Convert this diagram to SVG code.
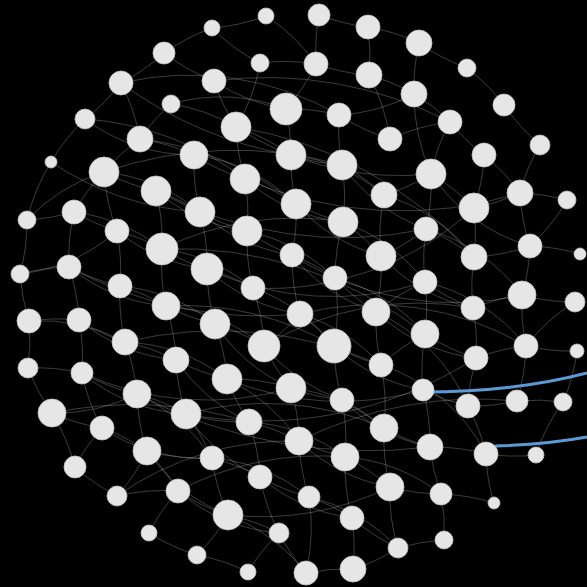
<svg xmlns="http://www.w3.org/2000/svg" width="587" height="587" viewBox="0 0 587 587">
<style>
.e{fill:none;stroke:#c8c8c8;stroke-width:0.55;opacity:0.55}
.b{fill:none;stroke:#5b9bd5;stroke-width:3}
circle{fill:#e6e6e6;stroke:#c4c4c4;stroke-width:0.8}
</style>
<rect width="587" height="587" fill="#000"/>
<g id="connectors">
<path class="e" d="M266 16A200 200 0 0 1 212 28"/>
<path class="e" d="M319 15A200 200 0 0 0 368 27"/>
<path class="e" d="M368 27A200 200 0 0 1 419 43"/>
<path class="e" d="M212 28A200 200 0 0 0 164 53"/>
<path class="e" d="M164 53A200 200 0 0 1 121 83"/>
<path class="e" d="M164 53A200 200 0 0 0 214 81"/>
<path class="e" d="M260 63A200 200 0 0 1 316 64"/>
<path class="e" d="M316 64A200 200 0 0 0 369 75"/>
<path class="e" d="M369 75A200 200 0 0 1 414 94"/>
<path class="e" d="M419 43A200 200 0 0 0 467 68"/>
<path class="e" d="M467 68A200 200 0 0 1 504 105"/>
<path class="e" d="M504 105A200 200 0 0 0 540 145"/>
<path class="e" d="M121 83A200 200 0 0 1 85 119"/>
<path class="e" d="M85 119A200 200 0 0 0 51 162"/>
<path class="e" d="M121 83A200 200 0 0 1 140 139"/>
<path class="e" d="M214 81A200 200 0 0 0 236 127"/>
<path class="e" d="M286 109A200 200 0 0 1 339 115"/>
<path class="e" d="M339 115A200 200 0 0 0 390 139"/>
<path class="e" d="M390 139A200 200 0 0 1 450 122"/>
<path class="e" d="M450 122A200 200 0 0 0 484 155"/>
<path class="e" d="M484 155A200 200 0 0 1 520 193"/>
<path class="e" d="M140 139A200 200 0 0 0 104 172"/>
<path class="e" d="M140 139A200 200 0 0 1 194 155"/>
<path class="e" d="M194 155A200 200 0 0 0 245 179"/>
<path class="e" d="M236 127A200 200 0 0 1 291 155"/>
<path class="e" d="M291 155A200 200 0 0 0 342 165"/>
<path class="e" d="M342 165A200 200 0 0 1 384 195"/>
<path class="e" d="M384 195A200 200 0 0 0 431 174"/>
<path class="e" d="M431 174A200 200 0 0 1 474 208"/>
<path class="e" d="M474 208A200 200 0 0 0 520 193"/>
<path class="e" d="M520 193A200 200 0 0 1 567 200"/>
<path class="e" d="M104 172A200 200 0 0 0 74 212"/>
<path class="e" d="M74 212A200 200 0 0 1 27 220"/>
<path class="e" d="M104 172A200 200 0 0 0 156 191"/>
<path class="e" d="M156 191A200 200 0 0 1 200 212"/>
<path class="e" d="M200 212A200 200 0 0 0 247 231"/>
<path class="e" d="M245 179A200 200 0 0 1 296 204"/>
<path class="e" d="M296 204A200 200 0 0 0 343 222"/>
<path class="e" d="M343 222A200 200 0 0 1 381 256"/>
<path class="e" d="M381 256A200 200 0 0 0 426 229"/>
<path class="e" d="M426 229A200 200 0 0 1 474 257"/>
<path class="e" d="M474 257A200 200 0 0 0 530 246"/>
<path class="e" d="M530 246A200 200 0 0 1 580 254"/>
<path class="e" d="M74 212A200 200 0 0 0 117 231"/>
<path class="e" d="M117 231A200 200 0 0 1 162 249"/>
<path class="e" d="M162 249A200 200 0 0 0 207 269"/>
<path class="e" d="M207 269A200 200 0 0 1 253 288"/>
<path class="e" d="M247 231A200 200 0 0 0 292 255"/>
<path class="e" d="M292 255A200 200 0 0 1 335 278"/>
<path class="e" d="M335 278A200 200 0 0 0 376 312"/>
<path class="e" d="M376 312A200 200 0 0 1 425 282"/>
<path class="e" d="M425 282A200 200 0 0 0 473 308"/>
<path class="e" d="M473 308A200 200 0 0 1 522 295"/>
<path class="e" d="M522 295A200 200 0 0 0 575 302"/>
<path class="e" d="M20 274A200 200 0 0 1 69 267"/>
<path class="e" d="M69 267A200 200 0 0 0 120 286"/>
<path class="e" d="M120 286A200 200 0 0 1 166 306"/>
<path class="e" d="M166 306A200 200 0 0 0 215 324"/>
<path class="e" d="M215 324A200 200 0 0 1 264 346"/>
<path class="e" d="M264 346A200 200 0 0 0 300 314"/>
<path class="e" d="M300 314A200 200 0 0 1 334 346"/>
<path class="e" d="M334 346A200 200 0 0 0 381 365"/>
<path class="e" d="M381 365A200 200 0 0 1 425 334"/>
<path class="e" d="M425 334A200 200 0 0 0 476 358"/>
<path class="e" d="M476 358A200 200 0 0 1 526 346"/>
<path class="e" d="M526 346A200 200 0 0 0 577 351"/>
<path class="e" d="M29 321A200 200 0 0 1 79 320"/>
<path class="e" d="M79 320A200 200 0 0 0 125 342"/>
<path class="e" d="M125 342A200 200 0 0 1 176 360"/>
<path class="e" d="M176 360A200 200 0 0 0 227 379"/>
<path class="e" d="M227 379A200 200 0 0 1 291 388"/>
<path class="e" d="M291 388A200 200 0 0 0 342 400"/>
<path class="e" d="M342 400A200 200 0 0 1 384 428"/>
<path class="e" d="M384 428A200 200 0 0 0 430 447"/>
<path class="e" d="M430 447A200 200 0 0 1 486 454"/>
<path class="e" d="M486 454A200 200 0 0 0 536 455"/>
<path class="e" d="M28 368A200 200 0 0 1 82 373"/>
<path class="e" d="M82 373A200 200 0 0 0 137 394"/>
<path class="e" d="M137 394A200 200 0 0 1 186 414"/>
<path class="e" d="M186 414A200 200 0 0 0 249 422"/>
<path class="e" d="M249 422A200 200 0 0 1 299 441"/>
<path class="e" d="M299 441A200 200 0 0 0 345 457"/>
<path class="e" d="M345 457A200 200 0 0 1 390 487"/>
<path class="e" d="M390 487A200 200 0 0 0 441 494"/>
<path class="e" d="M441 494A200 200 0 0 1 494 503"/>
<path class="e" d="M52 413A200 200 0 0 0 102 428"/>
<path class="e" d="M102 428A200 200 0 0 1 147 451"/>
<path class="e" d="M147 451A200 200 0 0 0 212 458"/>
<path class="e" d="M212 458A200 200 0 0 1 260 477"/>
<path class="e" d="M260 477A200 200 0 0 0 309 497"/>
<path class="e" d="M309 497A200 200 0 0 1 352 518"/>
<path class="e" d="M352 518A200 200 0 0 0 398 548"/>
<path class="e" d="M398 548A200 200 0 0 1 444 540"/>
<path class="e" d="M75 467A200 200 0 0 0 117 496"/>
<path class="e" d="M117 496A200 200 0 0 1 178 491"/>
<path class="e" d="M178 491A200 200 0 0 0 228 515"/>
<path class="e" d="M228 515A200 200 0 0 1 279 533"/>
<path class="e" d="M279 533A200 200 0 0 0 306 573"/>
<path class="e" d="M306 573A200 200 0 0 1 353 569"/>
<path class="e" d="M149 533A200 200 0 0 0 197 555"/>
<path class="e" d="M197 555A200 200 0 0 1 248 572"/>
<path class="e" d="M468 406A200 200 0 0 0 517 401"/>
<path class="e" d="M517 401A200 200 0 0 1 563 402"/>
<path class="e" d="M423 390A200 200 0 0 0 468 406"/>
<path class="e" d="M52 413A200 200 0 0 1 75 467"/>
<path class="e" d="M28 368A200 200 0 0 0 52 413"/>
<path class="e" d="M29 321A200 200 0 0 1 28 368"/>
<path class="e" d="M20 274A200 200 0 0 0 29 321"/>
<path class="e" d="M27 220A200 200 0 0 1 20 274"/>
<path class="e" d="M51 162A200 200 0 0 0 27 220"/>
<path class="e" d="M286 109A200 200 0 0 1 291 155"/>
<path class="e" d="M291 155A200 200 0 0 0 296 204"/>
<path class="e" d="M296 204A200 200 0 0 1 292 255"/>
<path class="e" d="M292 255A200 200 0 0 0 300 314"/>
<path class="e" d="M316 64A200 200 0 0 1 286 109"/>
<path class="e" d="M339 115A200 200 0 0 0 342 165"/>
<path class="e" d="M342 165A200 200 0 0 1 343 222"/>
<path class="e" d="M343 222A200 200 0 0 0 335 278"/>
<path class="e" d="M335 278A200 200 0 0 1 334 346"/>
<path class="e" d="M334 346A200 200 0 0 0 342 400"/>
<path class="e" d="M342 400A200 200 0 0 1 345 457"/>
<path class="e" d="M345 457A200 200 0 0 0 352 518"/>
<path class="e" d="M352 518A200 200 0 0 1 353 569"/>
<path class="e" d="M236 127A200 200 0 0 0 245 179"/>
<path class="e" d="M245 179A200 200 0 0 1 247 231"/>
<path class="e" d="M247 231A200 200 0 0 0 253 288"/>
<path class="e" d="M253 288A200 200 0 0 1 264 346"/>
<path class="e" d="M264 346A200 200 0 0 0 291 388"/>
<path class="e" d="M291 388A200 200 0 0 1 299 441"/>
<path class="e" d="M299 441A200 200 0 0 0 309 497"/>
<path class="e" d="M309 497A200 200 0 0 1 306 573"/>
<path class="e" d="M194 155A200 200 0 0 0 200 212"/>
<path class="e" d="M200 212A200 200 0 0 1 207 269"/>
<path class="e" d="M207 269A200 200 0 0 0 215 324"/>
<path class="e" d="M215 324A200 200 0 0 1 227 379"/>
<path class="e" d="M227 379A200 200 0 0 0 249 422"/>
<path class="e" d="M249 422A200 200 0 0 1 260 477"/>
<path class="e" d="M260 477A200 200 0 0 0 279 533"/>
<path class="e" d="M156 191A200 200 0 0 1 162 249"/>
<path class="e" d="M162 249A200 200 0 0 0 166 306"/>
<path class="e" d="M166 306A200 200 0 0 1 176 360"/>
<path class="e" d="M176 360A200 200 0 0 0 186 414"/>
<path class="e" d="M186 414A200 200 0 0 1 212 458"/>
<path class="e" d="M212 458A200 200 0 0 0 228 515"/>
<path class="e" d="M117 231A200 200 0 0 1 120 286"/>
<path class="e" d="M120 286A200 200 0 0 0 125 342"/>
<path class="e" d="M125 342A200 200 0 0 1 137 394"/>
<path class="e" d="M137 394A200 200 0 0 0 147 451"/>
<path class="e" d="M147 451A200 200 0 0 1 178 491"/>
<path class="e" d="M384 195A200 200 0 0 0 381 256"/>
<path class="e" d="M381 256A200 200 0 0 1 376 312"/>
<path class="e" d="M376 312A200 200 0 0 0 381 365"/>
<path class="e" d="M381 365A200 200 0 0 1 384 428"/>
<path class="e" d="M384 428A200 200 0 0 0 390 487"/>
<path class="e" d="M431 174A200 200 0 0 1 426 229"/>
<path class="e" d="M426 229A200 200 0 0 0 425 282"/>
<path class="e" d="M425 282A200 200 0 0 1 425 334"/>
<path class="e" d="M425 334A200 200 0 0 0 423 390"/>
<path class="e" d="M423 390A200 200 0 0 1 430 447"/>
<path class="e" d="M430 447A200 200 0 0 0 441 494"/>
<path class="e" d="M474 208A200 200 0 0 1 474 257"/>
<path class="e" d="M474 257A200 200 0 0 0 473 308"/>
<path class="e" d="M473 308A200 200 0 0 1 476 358"/>
<path class="e" d="M476 358A200 200 0 0 0 468 406"/>
<path class="e" d="M468 406A200 200 0 0 1 486 454"/>
<path class="e" d="M520 193A200 200 0 0 0 530 246"/>
<path class="e" d="M530 246A200 200 0 0 1 522 295"/>
<path class="e" d="M522 295A200 200 0 0 0 526 346"/>
<path class="e" d="M526 346A200 200 0 0 1 517 401"/>
<path class="e" d="M414 94A200 200 0 0 0 431 174"/>
<path class="e" d="M369 75A200 200 0 0 1 390 139"/>
<path class="e" d="M419 43A200 200 0 0 0 414 94"/>
<path class="e" d="M368 27A200 200 0 0 1 369 75"/>
<path class="e" d="M319 15A200 200 0 0 0 316 64"/>
<path class="e" d="M69 267A200 200 0 0 1 79 320"/>
<path class="e" d="M74 212A200 200 0 0 0 69 267"/>
<path class="e" d="M79 320A200 200 0 0 1 82 373"/>
<path class="e" d="M104 172A200 200 0 0 0 117 231"/>
<path class="e" d="M140 139A300 300 0 0 1 296 204"/>
<path class="e" d="M85 119A300 300 0 0 1 245 179"/>
<path class="e" d="M236 127A300 300 0 0 0 431 174"/>
<path class="e" d="M162 249A300 300 0 0 1 343 222"/>
<path class="e" d="M207 269A300 300 0 0 0 425 282"/>
<path class="e" d="M264 346A300 300 0 0 1 473 308"/>
<path class="e" d="M82 373A300 300 0 0 0 291 388"/>
<path class="e" d="M186 414A300 300 0 0 1 384 428"/>
<path class="e" d="M121 83A300 300 0 0 1 339 115"/>
<path class="e" d="M51 162A300 300 0 0 0 200 212"/>
<path class="e" d="M300 314A300 300 0 0 1 526 346"/>
<path class="e" d="M227 379A300 300 0 0 0 423 390"/>
<path class="e" d="M178 491A300 300 0 0 1 345 457"/>
<path class="e" d="M253 288A300 300 0 0 0 474 208"/>
<path class="e" d="M166 306A300 300 0 0 1 334 346"/>
<path class="e" d="M292 255A300 300 0 0 0 522 295"/>
<path class="e" d="M117 496A300 300 0 0 1 299 441"/>
<path class="e" d="M228 515A300 300 0 0 0 390 487"/>
<path class="e" d="M104 172A180 180 0 0 1 200 212"/>
<path class="e" d="M156 191A180 180 0 0 0 247 231"/>
<path class="e" d="M194 155A180 180 0 0 1 296 204"/>
<path class="e" d="M245 179A180 180 0 0 0 343 222"/>
<path class="e" d="M291 155A180 180 0 0 1 384 195"/>
<path class="e" d="M342 165A180 180 0 0 0 426 229"/>
<path class="e" d="M384 195A180 180 0 0 1 474 257"/>
<path class="e" d="M431 174A180 180 0 0 0 530 246"/>
<path class="e" d="M74 212A180 180 0 0 1 162 249"/>
<path class="e" d="M117 231A180 180 0 0 0 207 269"/>
<path class="e" d="M162 249A180 180 0 0 1 253 288"/>
<path class="e" d="M200 212A180 180 0 0 0 292 255"/>
<path class="e" d="M247 231A180 180 0 0 1 335 278"/>
<path class="e" d="M296 204A180 180 0 0 0 381 256"/>
<path class="e" d="M343 222A180 180 0 0 1 425 282"/>
<path class="e" d="M381 256A180 180 0 0 0 473 308"/>
<path class="e" d="M426 229A180 180 0 0 1 522 295"/>
<path class="e" d="M69 267A180 180 0 0 0 166 306"/>
<path class="e" d="M120 286A180 180 0 0 1 215 324"/>
<path class="e" d="M207 269A180 180 0 0 0 300 314"/>
<path class="e" d="M253 288A180 180 0 0 1 334 346"/>
<path class="e" d="M292 255A180 180 0 0 0 376 312"/>
<path class="e" d="M335 278A180 180 0 0 1 425 334"/>
<path class="e" d="M376 312A180 180 0 0 0 476 358"/>
<path class="e" d="M425 282A180 180 0 0 1 526 346"/>
<path class="e" d="M79 320A180 180 0 0 0 176 360"/>
<path class="e" d="M166 306A180 180 0 0 1 264 346"/>
<path class="e" d="M215 324A180 180 0 0 0 291 388"/>
<path class="e" d="M300 314A180 180 0 0 1 381 365"/>
<path class="e" d="M334 346A180 180 0 0 0 423 390"/>
<path class="e" d="M376 312A180 180 0 0 1 468 406"/>
<path class="e" d="M82 373A180 180 0 0 0 186 414"/>
<path class="e" d="M125 342A180 180 0 0 1 227 379"/>
<path class="e" d="M176 360A180 180 0 0 0 249 422"/>
<path class="e" d="M227 379A180 180 0 0 1 299 441"/>
<path class="e" d="M264 346A180 180 0 0 0 342 400"/>
<path class="e" d="M291 388A180 180 0 0 1 384 428"/>
<path class="e" d="M342 400A180 180 0 0 0 430 447"/>
<path class="e" d="M381 365A180 180 0 0 1 486 454"/>
<path class="e" d="M102 428A180 180 0 0 0 212 458"/>
<path class="e" d="M137 394A180 180 0 0 1 212 458"/>
<path class="e" d="M186 414A180 180 0 0 0 260 477"/>
<path class="e" d="M249 422A180 180 0 0 1 345 457"/>
<path class="e" d="M299 441A180 180 0 0 0 390 487"/>
<path class="e" d="M345 457A180 180 0 0 1 441 494"/>
<path class="e" d="M147 451A180 180 0 0 0 228 515"/>
<path class="e" d="M212 458A180 180 0 0 1 309 497"/>
<path class="e" d="M260 477A180 180 0 0 0 352 518"/>
<path class="e" d="M309 497A180 180 0 0 1 398 548"/>
<path class="e" d="M178 491A180 180 0 0 0 279 533"/>
<path class="e" d="M228 515A180 180 0 0 1 306 573"/>
<path class="e" d="M52 413A180 180 0 0 0 137 394"/>
<path class="e" d="M29 321A180 180 0 0 1 125 342"/>
<path class="e" d="M20 274A180 180 0 0 0 117 231"/>
<path class="e" d="M27 220A180 180 0 0 1 104 172"/>
<path class="e" d="M85 119A180 180 0 0 0 194 155"/>
<path class="e" d="M171 104A180 180 0 0 1 236 127"/>
<path class="e" d="M171 104A180 180 0 0 0 140 139"/>
<path class="e" d="M171 104A180 180 0 0 1 286 109"/>
<path class="e" d="M214 81A180 180 0 0 0 286 109"/>
<path class="e" d="M260 63A180 180 0 0 1 236 127"/>
<path class="e" d="M212 28A180 180 0 0 0 260 63"/>
<path class="e" d="M266 16A180 180 0 0 1 316 64"/>
<path class="e" d="M339 115A180 180 0 0 0 414 94"/>
<path class="e" d="M414 94A180 180 0 0 1 450 122"/>
<path class="e" d="M450 122A180 180 0 0 0 431 174"/>
<path class="e" d="M484 155A180 180 0 0 1 474 208"/>
<path class="e" d="M540 145A180 180 0 0 0 520 193"/>
<path class="e" d="M567 200A180 180 0 0 1 530 246"/>
<path class="e" d="M575 302A180 180 0 0 0 526 346"/>
<path class="e" d="M577 351A180 180 0 0 1 563 402"/>
<path class="e" d="M563 402A180 180 0 0 0 536 455"/>
<path class="e" d="M494 503A180 180 0 0 1 486 454"/>
<path class="e" d="M444 540A180 180 0 0 0 441 494"/>
<path class="e" d="M398 548A180 180 0 0 1 390 487"/>
<path class="e" d="M353 569A180 180 0 0 0 398 548"/>
<path class="e" d="M248 572A180 180 0 0 1 279 533"/>
<path class="e" d="M197 555A180 180 0 0 0 228 515"/>
<path class="e" d="M149 533A180 180 0 0 1 178 491"/>
<path class="e" d="M117 496A180 180 0 0 0 147 451"/>
<path class="e" d="M75 467A180 180 0 0 1 102 428"/>
<path class="e" d="M82 373A180 180 0 0 0 102 428"/>
<path class="e" d="M104 172A400 400 0 0 1 342 165"/>
<path class="e" d="M69 267A400 400 0 0 0 300 314"/>
<path class="e" d="M125 342A400 400 0 0 1 381 365"/>
<path class="e" d="M137 394A500 500 0 0 0 430 447"/>
<path class="e" d="M214 81A400 400 0 0 1 450 122"/>
<path class="e" d="M156 191A400 400 0 0 0 426 229"/>
<path class="e" d="M52 413A400 400 0 0 1 249 422"/>
<path class="e" d="M186 414A400 400 0 0 0 476 358"/>
<path class="e" d="M299 441A400 400 0 0 1 517 401"/>
<path class="e" d="M245 179A400 400 0 0 0 520 193"/>
<path class="e" d="M162 249A400 400 0 0 1 425 334"/>
<path class="e" d="M121 83A400 400 0 0 0 291 155"/>
<path class="e" d="M236 127A400 400 0 0 1 474 257"/>
<path class="b" d="M423 392C470 392 530 388 587 373"/>
<path class="b" d="M495 446C530 445 560 442 587 437"/>
</g>
<g id="n1"><circle cx="266" cy="16" r="8"/></g>
<g id="n2"><circle cx="319" cy="15" r="11"/></g>
<g id="n3"><circle cx="368" cy="27" r="12"/></g>
<g id="n4"><circle cx="419" cy="43" r="13"/></g>
<g id="n5"><circle cx="212" cy="28" r="8"/></g>
<g id="n6"><circle cx="164" cy="53" r="11"/></g>
<g id="n7"><circle cx="121" cy="83" r="12"/></g>
<g id="n8"><circle cx="214" cy="81" r="12"/></g>
<g id="n9"><circle cx="260" cy="63" r="9"/></g>
<g id="n10"><circle cx="316" cy="64" r="12"/></g>
<g id="n11"><circle cx="369" cy="75" r="13"/></g>
<g id="n12"><circle cx="414" cy="94" r="13"/></g>
<g id="n13"><circle cx="467" cy="68" r="9"/></g>
<g id="n14"><circle cx="504" cy="105" r="11"/></g>
<g id="n15"><circle cx="540" cy="145" r="10"/></g>
<g id="n16"><circle cx="171" cy="104" r="9"/></g>
<g id="n17"><circle cx="85" cy="119" r="10"/></g>
<g id="n18"><circle cx="140" cy="139" r="13"/></g>
<g id="n19"><circle cx="236" cy="127" r="15"/></g>
<g id="n20"><circle cx="286" cy="109" r="16"/></g>
<g id="n21"><circle cx="339" cy="115" r="12"/></g>
<g id="n22"><circle cx="390" cy="139" r="12"/></g>
<g id="n23"><circle cx="450" cy="122" r="12"/></g>
<g id="n24"><circle cx="484" cy="155" r="12"/></g>
<g id="n25"><circle cx="51" cy="162" r="6"/></g>
<g id="n26"><circle cx="104" cy="172" r="15"/></g>
<g id="n27"><circle cx="194" cy="155" r="14"/></g>
<g id="n28"><circle cx="291" cy="155" r="15"/></g>
<g id="n29"><circle cx="342" cy="165" r="15"/></g>
<g id="n30"><circle cx="431" cy="174" r="15"/></g>
<g id="n31"><circle cx="520" cy="193" r="13"/></g>
<g id="n32"><circle cx="567" cy="200" r="9"/></g>
<g id="n33"><circle cx="156" cy="191" r="15"/></g>
<g id="n34"><circle cx="245" cy="179" r="15"/></g>
<g id="n35"><circle cx="384" cy="195" r="13"/></g>
<g id="n36"><circle cx="474" cy="208" r="15"/></g>
<g id="n37"><circle cx="27" cy="220" r="9"/></g>
<g id="n38"><circle cx="74" cy="212" r="12"/></g>
<g id="n39"><circle cx="200" cy="212" r="15"/></g>
<g id="n40"><circle cx="296" cy="204" r="15"/></g>
<g id="n41"><circle cx="343" cy="222" r="15"/></g>
<g id="n42"><circle cx="117" cy="231" r="12"/></g>
<g id="n43"><circle cx="247" cy="231" r="15"/></g>
<g id="n44"><circle cx="426" cy="229" r="12"/></g>
<g id="n45"><circle cx="530" cy="246" r="12"/></g>
<g id="n46"><circle cx="580" cy="254" r="6"/></g>
<g id="n47"><circle cx="162" cy="249" r="16"/></g>
<g id="n48"><circle cx="292" cy="255" r="12"/></g>
<g id="n49"><circle cx="381" cy="256" r="15"/></g>
<g id="n50"><circle cx="474" cy="257" r="13"/></g>
<g id="n51"><circle cx="20" cy="274" r="9"/></g>
<g id="n52"><circle cx="69" cy="267" r="12"/></g>
<g id="n53"><circle cx="207" cy="269" r="16"/></g>
<g id="n54"><circle cx="335" cy="278" r="12"/></g>
<g id="n55"><circle cx="120" cy="286" r="12"/></g>
<g id="n56"><circle cx="253" cy="288" r="12"/></g>
<g id="n57"><circle cx="425" cy="282" r="12"/></g>
<g id="n58"><circle cx="522" cy="295" r="14"/></g>
<g id="n59"><circle cx="575" cy="302" r="10"/></g>
<g id="n60"><circle cx="29" cy="321" r="12"/></g>
<g id="n61"><circle cx="79" cy="320" r="12"/></g>
<g id="n62"><circle cx="166" cy="306" r="14"/></g>
<g id="n63"><circle cx="300" cy="314" r="13"/></g>
<g id="n64"><circle cx="376" cy="312" r="14"/></g>
<g id="n65"><circle cx="473" cy="308" r="12"/></g>
<g id="n66"><circle cx="215" cy="324" r="15"/></g>
<g id="n67"><circle cx="125" cy="342" r="13"/></g>
<g id="n68"><circle cx="264" cy="346" r="16"/></g>
<g id="n69"><circle cx="334" cy="346" r="17"/></g>
<g id="n70"><circle cx="425" cy="334" r="14"/></g>
<g id="n71"><circle cx="526" cy="346" r="12"/></g>
<g id="n72"><circle cx="577" cy="351" r="7"/></g>
<g id="n73"><circle cx="28" cy="368" r="10"/></g>
<g id="n74"><circle cx="82" cy="373" r="11"/></g>
<g id="n75"><circle cx="176" cy="360" r="13"/></g>
<g id="n76"><circle cx="381" cy="365" r="12"/></g>
<g id="n77"><circle cx="476" cy="358" r="12"/></g>
<g id="n78"><circle cx="227" cy="379" r="15"/></g>
<g id="n79"><circle cx="137" cy="394" r="14"/></g>
<g id="n80"><circle cx="291" cy="388" r="15"/></g>
<g id="n81"><circle cx="342" cy="400" r="12"/></g>
<g id="n82"><circle cx="423" cy="390" r="11"/></g>
<g id="n83"><circle cx="52" cy="413" r="14"/></g>
<g id="n84"><circle cx="186" cy="414" r="15"/></g>
<g id="n85"><circle cx="249" cy="422" r="13"/></g>
<g id="n86"><circle cx="517" cy="401" r="11"/></g>
<g id="n87"><circle cx="468" cy="406" r="12"/></g>
<g id="n88"><circle cx="563" cy="402" r="9"/></g>
<g id="n89"><circle cx="102" cy="428" r="12"/></g>
<g id="n90"><circle cx="384" cy="428" r="14"/></g>
<g id="n91"><circle cx="299" cy="441" r="14"/></g>
<g id="n92"><circle cx="147" cy="451" r="14"/></g>
<g id="n93"><circle cx="430" cy="447" r="13"/></g>
<g id="n94"><circle cx="345" cy="457" r="14"/></g>
<g id="n95"><circle cx="212" cy="458" r="12"/></g>
<g id="n96"><circle cx="486" cy="454" r="12"/></g>
<g id="n97"><circle cx="536" cy="455" r="8"/></g>
<g id="n98"><circle cx="75" cy="467" r="11"/></g>
<g id="n99"><circle cx="260" cy="477" r="12"/></g>
<g id="n100"><circle cx="390" cy="487" r="14"/></g>
<g id="n101"><circle cx="178" cy="491" r="12"/></g>
<g id="n102"><circle cx="309" cy="497" r="11"/></g>
<g id="n103"><circle cx="441" cy="494" r="11"/></g>
<g id="n104"><circle cx="117" cy="496" r="10"/></g>
<g id="n105"><circle cx="228" cy="515" r="15"/></g>
<g id="n106"><circle cx="352" cy="518" r="12"/></g>
<g id="n107"><circle cx="494" cy="503" r="6"/></g>
<g id="n108"><circle cx="149" cy="533" r="8"/></g>
<g id="n109"><circle cx="279" cy="533" r="10"/></g>
<g id="n110"><circle cx="398" cy="548" r="10"/></g>
<g id="n111"><circle cx="444" cy="540" r="9"/></g>
<g id="n112"><circle cx="197" cy="555" r="9"/></g>
<g id="n113"><circle cx="248" cy="572" r="8"/></g>
<g id="n114"><circle cx="306" cy="573" r="12"/></g>
<g id="n115"><circle cx="353" cy="569" r="13"/></g>
</svg>
